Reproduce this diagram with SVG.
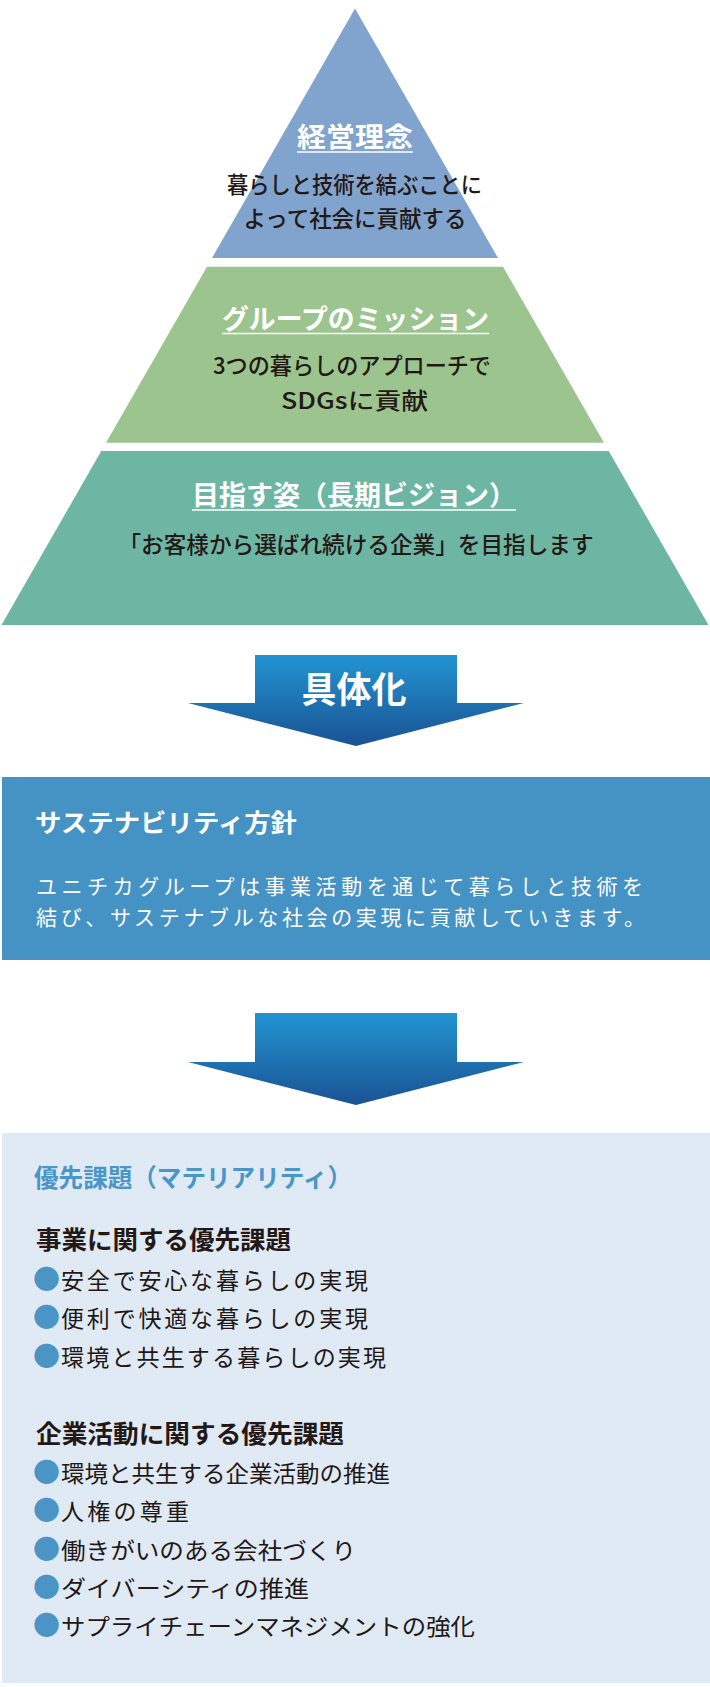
<svg xmlns="http://www.w3.org/2000/svg" width="710" height="1687" viewBox="0 0 710 1687">
<defs>
<linearGradient id="arrowGrad" x1="0" y1="0" x2="0" y2="1">
<stop offset="0" stop-color="#2394d2"/>
<stop offset="1" stop-color="#1a5293"/>
</linearGradient>
<style>
text{font-family:'Noto Sans CJK JP','Noto Sans',sans-serif;}
.ttl{font-weight:700;fill:#ffffff;font-size:27px;}
.mid{text-anchor:middle;}
.body{font-weight:500;fill:#231815;font-size:23px;}
.ul{stroke:#ffffff;stroke-width:1.6;}
.pw{fill:#ffffff;font-size:21px;font-weight:400;}
.item{fill:#231815;font-size:23px;font-weight:400;}
.dot{fill:#4a94c6;font-size:27px;}
.sub{fill:#231815;font-size:25px;font-weight:700;}
</style>
</defs>
<rect width="710" height="1687" fill="#ffffff"/>

<g id="node-philosophy">
<polygon points="355,8.6 498,258 212,258" fill="#80a4cd"/>
<text class="ttl mid" x="355" y="147" font-size="28" textLength="116" lengthAdjust="spacingAndGlyphs">経営理念</text>
<line class="ul" x1="297" y1="152" x2="413" y2="152"/>
<text class="body mid" x="354.5" y="193" textLength="255" lengthAdjust="spacingAndGlyphs">暮らしと技術を結ぶことに</text>
<text class="body mid" x="355" y="227" textLength="223" lengthAdjust="spacingAndGlyphs">よって社会に貢献する</text>
</g>

<g id="node-mission">
<polygon points="207,266.7 503,266.7 604,442.7 106,442.7" fill="#9cc48f"/>
<text class="ttl mid" x="355.5" y="329" textLength="267" lengthAdjust="spacingAndGlyphs">グループのミッション</text>
<line class="ul" x1="222" y1="333.5" x2="489" y2="333.5"/>
<text class="body mid" x="352" y="374" textLength="278" lengthAdjust="spacingAndGlyphs">3つの暮らしのアプローチで</text>
<text class="body mid" x="354.5" y="409" font-size="25" font-weight="700" textLength="147" lengthAdjust="spacingAndGlyphs">SDGsに貢献</text>
</g>

<g id="node-vision">
<polygon points="101.3,451 608.7,451 708.5,625 1.5,625" fill="#6db6a4"/>
<text class="ttl" x="192" y="505" textLength="324" lengthAdjust="spacingAndGlyphs">目指す姿（長期ビジョン）</text>
<line class="ul" x1="192" y1="510" x2="516" y2="510"/>
<text class="body mid" x="356" y="553" textLength="475" lengthAdjust="spacingAndGlyphs">「お客様から選ばれ続ける企業」を目指します</text>
</g>

<g id="connectors">
<g id="arrow-concretize">
<polygon points="255,655 457,655 457,703 524,703 356,746 188,703 255,703" fill="url(#arrowGrad)"/>
<text class="mid" x="354" y="703" font-size="36" font-weight="700" fill="#ffffff" textLength="105" lengthAdjust="spacingAndGlyphs">具体化</text>
</g>
<g id="arrow-2">
<polygon points="255,1013 457,1013 457,1062 524,1062 356,1105 188,1062 255,1062" fill="url(#arrowGrad)"/>
</g>
</g>

<g id="node-policy">
<rect x="2" y="777" width="708" height="183" fill="#4592c5"/>
<text x="35" y="832" font-size="25" font-weight="700" fill="#ffffff" textLength="262" lengthAdjust="spacingAndGlyphs">サステナビリティ方針</text>
<text class="pw" x="36" y="893.5" textLength="607">ユニチカグループは事業活動を通じて暮らしと技術を</text>
<text class="pw" x="36" y="924.5" textLength="609">結び、サステナブルな社会の実現に貢献していきます。</text>
</g>

<g id="node-materiality">
<rect x="2" y="1133" width="708" height="550" fill="#e0eaf5"/>
<text x="34" y="1187" font-size="25" font-weight="700" fill="#4a96c9" textLength="318" lengthAdjust="spacingAndGlyphs">優先課題（マテリアリティ）</text>
<text class="sub" x="36" y="1249" textLength="255" lengthAdjust="spacingAndGlyphs">事業に関する優先課題</text>
<text class="dot" x="33" y="1289">●</text>
<text class="item" x="61" y="1289" textLength="307">安全で安心な暮らしの実現</text>
<text class="dot" x="33" y="1327">●</text>
<text class="item" x="61" y="1327" textLength="307">便利で快適な暮らしの実現</text>
<text class="dot" x="33" y="1366">●</text>
<text class="item" x="61" y="1366" textLength="325">環境と共生する暮らしの実現</text>
<text class="sub" x="36" y="1443" textLength="308" lengthAdjust="spacingAndGlyphs">企業活動に関する優先課題</text>
<text class="dot" x="33" y="1482">●</text>
<text class="item" x="61" y="1482" textLength="329" lengthAdjust="spacingAndGlyphs">環境と共生する企業活動の推進</text>
<text class="dot" x="33" y="1520">●</text>
<text class="item" x="61" y="1520" textLength="128">人権の尊重</text>
<text class="dot" x="33" y="1559">●</text>
<text class="item" x="61" y="1559" textLength="295" lengthAdjust="spacingAndGlyphs">働きがいのある会社づくり</text>
<text class="dot" x="33" y="1597">●</text>
<text class="item" x="61" y="1597" textLength="248" lengthAdjust="spacingAndGlyphs">ダイバーシティの推進</text>
<text class="dot" x="33" y="1635">●</text>
<text class="item" x="61" y="1635" textLength="414" lengthAdjust="spacingAndGlyphs">サプライチェーンマネジメントの強化</text>
</g>
</svg>
